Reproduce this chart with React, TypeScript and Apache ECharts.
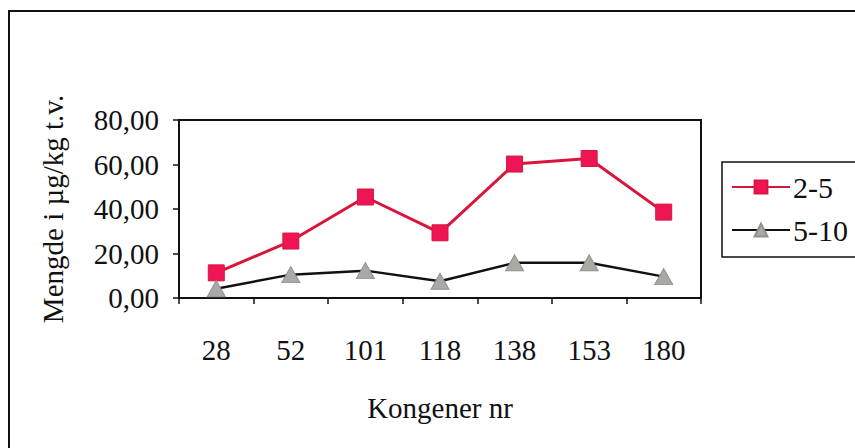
import React, { useEffect, useRef } from "react";
import * as echarts from "echarts";

const categories = ["28", "52", "101", "118", "138", "153", "180"];
const series25 = [11.3, 25.6, 45.4, 29.3, 60.2, 62.7, 38.6];
const series510 = [4.2, 10.5, 12.3, 7.5, 15.8, 15.8, 9.6];
const seriesNames = ["2-5", "5-10"];
const yTicks = { min: 0, max: 80, interval: 20 };

const FONT = "'Liberation Serif', 'Times New Roman', serif";

export default function App() {
  const ref = useRef<HTMLDivElement>(null);
  useEffect(() => {
    if (!ref.current) return;
    const chart = echarts.init(ref.current, null, { renderer: "svg" });
    chart.setOption({
      animation: false,
      backgroundColor: "#ffffff",
      textStyle: { fontFamily: FONT, color: "#111" },
      graphic: [
        {
          type: "rect",
          shape: { x: 9, y: 11, width: 1000, height: 1000 },
          style: { fill: "none", stroke: "#111", lineWidth: 2 },
          z: 0,
        },
        {
          type: "rect",
          shape: { x: 722, y: 162, width: 300, height: 95 },
          style: { fill: "none", stroke: "#111", lineWidth: 1.5 },
          z: 0,
        },
      ],
      grid: {
        left: 179,
        right: 154,
        top: 120,
        bottom: 150,
        show: true,
        borderColor: "#111",
        borderWidth: 2,
      },
      legend: {
        orient: "vertical",
        left: 726,
        top: 167,
        itemWidth: 58,
        itemHeight: 16,
        itemGap: 13,
        textStyle: { fontFamily: FONT, fontSize: 30, color: "#111", padding: [5, 0, 0, -2] },
        data: seriesNames,
      },
      xAxis: {
        type: "category",
        data: categories,
        boundaryGap: true,
        name: "Kongener nr",
        nameLocation: "middle",
        nameGap: 95,
        nameTextStyle: { fontFamily: FONT, fontSize: 29, color: "#111" },
        axisLine: { lineStyle: { color: "#111", width: 2 } },
        axisTick: { show: true, length: 6, inside: false, lineStyle: { color: "#111", width: 1.5 } },
        axisLabel: { fontFamily: FONT, fontSize: 29, color: "#111", margin: 37 },
        splitLine: { show: false },
      },
      yAxis: {
        type: "value",
        min: yTicks.min,
        max: yTicks.max,
        interval: yTicks.interval,
        name: "Mengde i µg/kg t.v.",
        nameLocation: "middle",
        nameGap: 112,
        nameRotate: 90,
        nameTextStyle: { fontFamily: FONT, fontSize: 29, color: "#111" },
        axisLine: { show: true, lineStyle: { color: "#111", width: 2 } },
        axisTick: { show: true, length: 6, inside: false, lineStyle: { color: "#111", width: 1.5 } },
        axisLabel: {
          fontFamily: FONT,
          fontSize: 29,
          color: "#111",
          margin: 20,
          formatter: (v: number) => v.toFixed(2).replace(".", ","),
        },
        splitLine: { show: false },
      },
      series: [
        {
          name: seriesNames[0],
          type: "line",
          data: series25,
          symbol: "rect",
          symbolSize: 16,
          lineStyle: { color: "#d8163c", width: 3 },
          itemStyle: { color: "#ee1556", borderColor: "#d8163c", borderWidth: 1 },
          z: 2,
        },
        {
          name: seriesNames[1],
          type: "line",
          data: series510,
          symbol: "triangle",
          symbolSize: [18, 16],
          lineStyle: { color: "#111", width: 2.5 },
          itemStyle: { color: "#a8aaa6", borderColor: "#8f918d", borderWidth: 1 },
          z: 3,
        },
      ],
    });
    return () => chart.dispose();
  }, []);
  return (
    <div
      ref={ref}
      style={{ position: "fixed", left: 0, top: 0, width: 855, height: 448 }}
    />
  );
}
